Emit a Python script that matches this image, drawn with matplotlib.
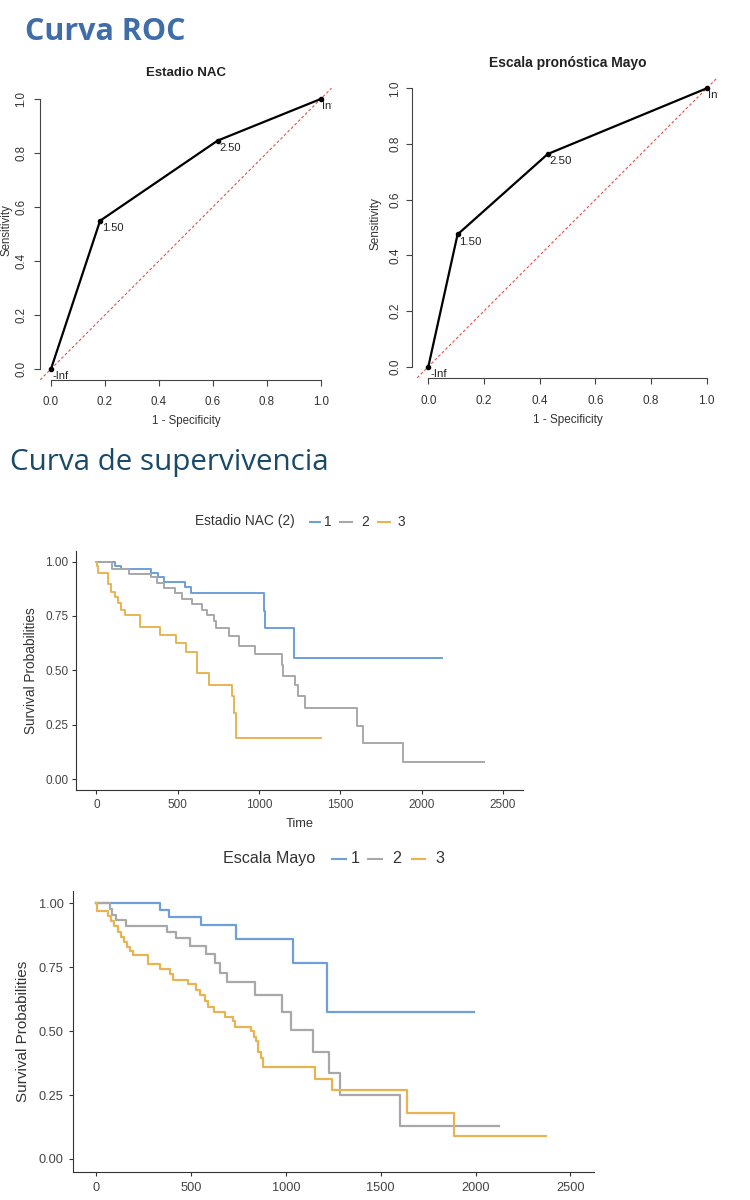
import matplotlib
matplotlib.use("Agg")
import matplotlib.pyplot as plt
from matplotlib.lines import Line2D

plt.rcParams['font.family'] = ['Liberation Sans', 'DejaVu Sans']

# ---------------- DATA ----------------
# ROC curves (1 - specificity, sensitivity) with thresholds
roc_nac_fpr = [0.0, 0.182, 0.618, 1.0]
roc_nac_tpr = [0.0, 0.549, 0.846, 1.0]
roc_mayo_fpr = [0.0, 0.105, 0.429, 1.0]
roc_mayo_tpr = [0.0, 0.475, 0.764, 1.0]
roc_thresholds = ["-Inf", "1.50", "2.50", "Inf"]
roc_ticks = [0.0, 0.2, 0.4, 0.6, 0.8, 1.0]

# Kaplan-Meier: Estadio NAC (2)
nac1_t = [0, 113, 154, 338, 379, 418, 547, 584, 1033, 1040, 1217]
nac1_s = [1.0, 0.98, 0.968, 0.947, 0.927, 0.904, 0.881, 0.854, 0.775, 0.695, 0.556]
nac1_end = 2125
nac2_t = [0, 96, 199, 338, 373, 414, 486, 527, 588, 649, 680, 721, 735, 817, 879,
          977, 1141, 1150, 1223, 1238, 1285, 1602, 1637, 1885]
nac2_s = [1.0, 0.965, 0.945, 0.927, 0.901, 0.878, 0.854, 0.828, 0.805, 0.778, 0.756,
          0.726, 0.695, 0.656, 0.614, 0.573, 0.523, 0.473, 0.431, 0.381, 0.328, 0.245,
          0.165, 0.081]
nac2_end = 2381
nac3_t = [0, 4, 10, 72, 93, 113, 134, 154, 174, 266, 389, 492, 553, 621, 690, 834, 846, 861]
nac3_s = [1.0, 0.98, 0.947, 0.898, 0.86, 0.837, 0.81, 0.779, 0.753, 0.697, 0.662, 0.627,
          0.586, 0.487, 0.433, 0.38, 0.303, 0.189]
nac3_end = 1381

# Kaplan-Meier: Escala Mayo
mayo1_t = [0, 338, 381, 550, 736, 1037, 1215]
mayo1_s = [1.0, 0.976, 0.949, 0.915, 0.862, 0.766, 0.575]
mayo1_end = 1992
mayo2_t = [0, 70, 84, 102, 158, 373, 418, 492, 580, 624, 650, 689, 839, 981, 1028,
           1141, 1227, 1283, 1600]
mayo2_s = [1.0, 0.98, 0.954, 0.935, 0.913, 0.89, 0.866, 0.834, 0.801, 0.766, 0.727,
           0.691, 0.642, 0.574, 0.503, 0.42, 0.336, 0.251, 0.127]
mayo2_end = 2124
mayo3_t = [0, 3, 61, 78, 95, 112, 128, 145, 160, 177, 195, 272, 334, 387, 404, 484, 524,
           545, 571, 589, 619, 677, 721, 730, 818, 830, 844, 852, 870, 879, 1152, 1243,
           1638, 1885]
mayo3_s = [1.0, 0.97, 0.95, 0.93, 0.91, 0.89, 0.87, 0.85, 0.83, 0.815, 0.798, 0.762,
           0.743, 0.723, 0.70, 0.683, 0.661, 0.642, 0.618, 0.596, 0.577, 0.557, 0.538,
           0.518, 0.499, 0.479, 0.46, 0.42, 0.394, 0.358, 0.314, 0.271, 0.18, 0.091]
mayo3_end = 2373

group_labels = ["1", "2", "3"]
surv_xticks = [0, 500, 1000, 1500, 2000, 2500]
surv_yticks = [0.0, 0.25, 0.5, 0.75, 1.0]

# ---------------- STYLE ----------------
W, H = 750, 1200
COL = ['#6E9FDA', '#A8A8A8', '#E8B452']
TXT = '#333333'

fig = plt.figure(figsize=(W / 100, H / 100), dpi=100)
fig.patch.set_facecolor('white')


def add_ax(l, t, r, b):
    return fig.add_axes([l / W, 1 - b / H, (r - l) / W, (b - t) / H])


def ftext(x, y, s, **kw):
    return fig.text(x / W, 1 - y / H, s, **kw)


def fit_text(t, target_w):
    r = fig.canvas.get_renderer()
    bb = t.get_window_extent(r)
    t.set_fontsize(t.get_fontsize() * target_w / bb.width)


# ---------------- HEADINGS ----------------
h1 = ftext(25, 40, "Curva ROC", fontsize=22, fontweight='bold', color='#3F6DAA',
           family=['Open Sans', 'DejaVu Sans'], va='baseline', ha='left')
h2 = ftext(10, 470, "Curva de supervivencia", fontsize=22, color='#1A4A68',
           family=['Open Sans', 'DejaVu Sans'], va='baseline', ha='left')
fit_text(h1, 160)
fit_text(h2, 320)


# ---------------- ROC PLOTS ----------------
def roc_plot(box, fpr, tpr, title, fs, title_fs, ypad, xpad, spine_off, ylab_x, title_y,
             xlab_y):
    l, t, r, b = box
    ax = add_ax(l, t, r, b)
    ax.set_xlim(-0.04, 1.04)
    ax.set_ylim(-0.04, 1.04)
    ax.set_facecolor('none')
    for s in ['top', 'right']:
        ax.spines[s].set_visible(False)
    for s in ['left', 'bottom']:
        ax.spines[s].set_color('#444444')
        ax.spines[s].set_linewidth(0.8)
        ax.spines[s].set_bounds(0, 1)
    ax.spines['left'].set_position(('outward', spine_off))
    ax.set_xticks(roc_ticks)
    ax.set_yticks(roc_ticks)
    ax.set_xticklabels([f"{v:.1f}" for v in roc_ticks])
    ax.set_yticklabels([f"{v:.1f}" for v in roc_ticks], rotation=90, va='center')
    ax.tick_params(axis='both', direction='out', length=4.3, width=0.8, color='#444444',
                   labelsize=fs, labelcolor=TXT)
    ax.tick_params(axis='y', pad=ypad)
    ax.tick_params(axis='x', pad=xpad)
    ax.axline((0, 0), (1, 1), color='#E05050', lw=0.8, ls=(0, (2.5, 2)))
    ax.plot(fpr, tpr, color='black', lw=1.6, marker='o', ms=3, zorder=3)
    for x, y, lab in zip(fpr, tpr, roc_thresholds):
        ax.annotate(lab, (x, y), xytext=(1.2, -1.5), textcoords='offset points',
                    ha='left', va='top', fontsize=fs * 0.97, color='#222222',
                    annotation_clip=False, clip_on=True)
    cx = (l + r) / 2
    cy = (t + b) / 2
    ftext(cx, title_y, title, fontsize=title_fs, fontweight='bold', ha='center',
          va='center', color='#222222')
    ftext(cx, xlab_y, "1 - Specificity", fontsize=fs, ha='center', va='center', color=TXT)
    ftext(ylab_x, cy - 4, "Sensitivity", fontsize=fs, ha='center', va='center',
          rotation=90, color=TXT)
    return ax


roc_plot((40.2, 88.2, 331.5, 379.8), roc_nac_fpr, roc_nac_tpr, "Estadio NAC",
         8.3, 9.5, 4.8, 7.2, 0, 6.5, 73, 421)
roc_plot((417.2, 77.2, 717.8, 377.8), roc_mayo_fpr, roc_mayo_tpr,
         "Escala pronóstica Mayo", 8.5, 10, 3.2, 8.0, 4, 376, 63.5, 420)


# ---------------- SURVIVAL PLOTS ----------------
def surv_plot(box, curves, lw, tick_fs, ylab_fs, ylab_x, ypad, xpad):
    l, t, r, b = box
    ax = add_ax(l, t, r, b)
    ax.set_xlim(-125, 2625)
    ax.set_ylim(-0.05, 1.05)
    for (tt, ss, end), c in zip(curves, COL):
        ax.step(list(tt) + [end], list(ss) + [ss[-1]], where='post', color=c, lw=lw)
    for s in ['top', 'right']:
        ax.spines[s].set_visible(False)
    for s in ['left', 'bottom']:
        ax.spines[s].set_color('#333333')
        ax.spines[s].set_linewidth(0.8)
    ax.set_xticks(surv_xticks)
    ax.set_yticks(surv_yticks)
    ax.set_xticklabels([str(v) for v in surv_xticks])
    ax.set_yticklabels([f"{v:.2f}" for v in surv_yticks])
    ax.tick_params(axis='both', direction='out', length=2.6, width=0.8, color='#333333',
                   labelsize=tick_fs, labelcolor='#444444')
    ax.tick_params(axis='y', pad=ypad)
    ax.tick_params(axis='x', pad=xpad)
    ftext(ylab_x, (t + b) / 2, "Survival Probabilities", fontsize=ylab_fs, rotation=90,
          ha='center', va='center', color=TXT)
    return ax


def legend(title, title_x, y, fs, dashes, label_x):
    ftext(title_x, y, title, fontsize=fs, ha='left', va='center', color=TXT)
    for (x0, x1), lx, c, lab in zip(dashes, label_x, COL, group_labels):
        fig.add_artist(Line2D([x0 / W, x1 / W], [1 - y / H, 1 - y / H], color=c, lw=1.5,
                              transform=fig.transFigure))
        ftext(lx, y, lab, fontsize=fs, ha='center', va='center', color=TXT)


surv_plot((76, 550.7, 523.3, 790),
          [(nac1_t, nac1_s, nac1_end), (nac2_t, nac2_s, nac2_end), (nac3_t, nac3_s, nac3_end)],
          1.4, 8.5, 9.85, 31, 2.7, 4.0)
ftext(300, 824, "Time", fontsize=9.3, ha='center', va='center', color=TXT)
legend("Estadio NAC (2)", 195, 521.5, 9.9,
       [(310, 320), (340, 352), (378, 390)], [328, 365, 401.5])

surv_plot((72.7, 890.7, 594, 1171.7),
          [(mayo1_t, mayo1_s, mayo1_end), (mayo2_t, mayo2_s, mayo2_end),
           (mayo3_t, mayo3_s, mayo3_end)],
          1.6, 9.2, 11, 23.5, 3.9, 5.0)
legend("Escala Mayo", 223, 858.5, 11.6,
       [(332, 346), (368, 382), (412, 425)], [355.5, 396.5, 440])

fig.savefig("out.png", dpi=100, facecolor='white')
